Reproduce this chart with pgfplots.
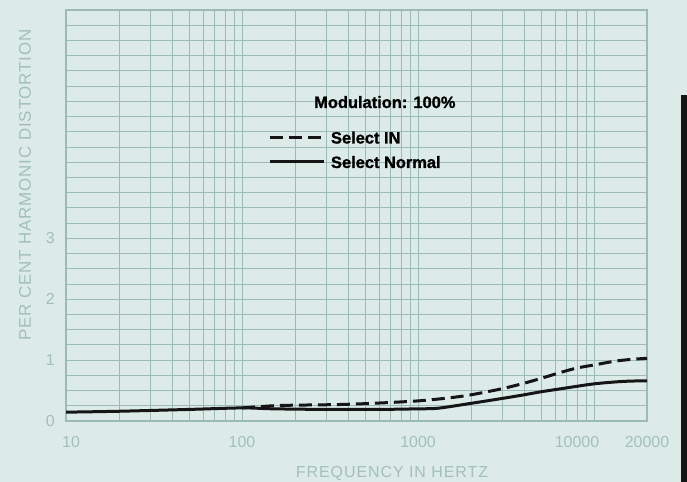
\documentclass[border=0pt]{standalone}
\usepackage{pgfplots}
\pgfplotsset{compat=1.18}
\usepackage{fontspec}
\setmainfont{Liberation Sans}
\newfontfamily\spacedA[LetterSpace=5]{Liberation Sans}
\newfontfamily\spacedB[LetterSpace=6]{Liberation Sans}
\newfontfamily\legfont[BoldFeatures={FakeBold=1.2}]{Liberation Sans}
\definecolor{bgc}{HTML}{DCEBE8}
\definecolor{gridc}{HTML}{9DBAB6}
\definecolor{txtc}{HTML}{A3BFBD}
\definecolor{ink}{HTML}{151515}
\begin{document}
\begin{tikzpicture}
\fill[bgc] (0,0) rectangle (687bp,482bp);
\fill[ink] (681bp,0) rectangle (687bp,387bp);
\begin{axis}[
  at={(66bp,61bp)}, anchor=south west,
  width=581bp, height=411bp, scale only axis,
  xmode=log, xmin=10, xmax=20000, ymin=0, ymax=6.75,
  axis line style={gridc, line width=1.3bp},
  xtick={10,100,1000,10000,20000},
  xticklabels={{\kern10bp 10},100,1000,{10000\kern34bp},20000},
  minor xtick={20,30,40,50,60,70,80,90,200,300,400,500,600,700,800,900,2000,3000,4000,5000,6000,7000,8000,9000},
  ytick={0,1,2,3},
  minor ytick={0.25,0.5,...,6.5},
  major tick length=0pt, minor tick length=0pt,
  tick style={draw=none},
  grid=both,
  grid style={gridc, line width=0.9bp},
  major grid style={gridc, line width=0.9bp},
  minor grid style={gridc, line width=0.9bp},
  /pgf/number format/assume math mode=true,
  ticklabel style={font=\fontsize{16}{16}\selectfont, text=txtc, inner sep=0pt},
  xticklabel shift=15bp, yticklabel shift=11bp,
  legend style={draw=none, fill=none, at={(axis description cs:0.3477,0.7044)}, anchor=north west,
    inner sep=0pt, outer sep=0pt, row sep=12.5bp,
    font=\legfont\fontsize{16.5}{16.5}\selectfont\bfseries, text=black,
    nodes={inner sep=0pt, text height=12bp, text depth=0pt},
    /tikz/every odd column/.append style={column sep=6bp}},
  legend cell align=left,
  legend image code/.code={\draw[#1] (0bp,0bp) -- (54bp,0bp);},
]
\addplot[ink, line width=3bp, dash pattern=on 13bp off 6bp, smooth, tension=0.5] coordinates {
 (100,0.215) (150,0.25) (200,0.26) (350,0.27) (550,0.29) (1000,0.33) (1500,0.38)
 (2000,0.43) (3000,0.53) (4000,0.62) (5000,0.70) (6500,0.80) (8000,0.87)
 (10000,0.92) (13000,0.98) (16000,1.01) (20000,1.03)};
\addlegendentry{Select IN}
\addplot[ink, line width=3bp, smooth, tension=0.5] coordinates {
 (10,0.145) (20,0.16) (50,0.19) (100,0.215) (150,0.20) (300,0.19) (600,0.19)
 (1000,0.20) (1300,0.21) (2000,0.29) (3000,0.37) (4000,0.43) (5000,0.48)
 (6500,0.53) (8000,0.57) (10000,0.61) (13000,0.64) (16000,0.655) (20000,0.66)};
\addlegendentry{Select Normal}
\end{axis}
\node[anchor=base west, inner sep=0pt, font=\legfont\fontsize{16.5}{16.5}\selectfont\bfseries] at (314bp,374bp) {Modulation: 100\%};
\node[anchor=base, inner sep=0pt, text=txtc, font=\spacedB\fontsize{16}{16}\selectfont] at (392bp,5bp) {FREQUENCY IN HERTZ};
\node[rotate=90, inner sep=0pt, text=txtc, font=\spacedA\fontsize{17}{17}\selectfont] at (25bp,297bp) {PER CENT HARMONIC DISTORTION};
\end{tikzpicture}
\end{document}
